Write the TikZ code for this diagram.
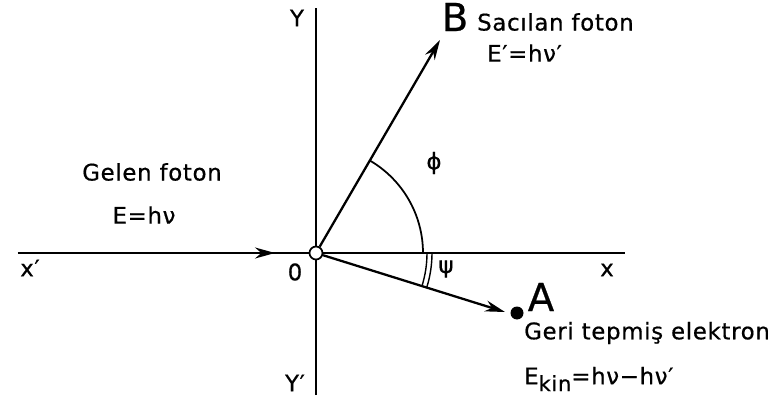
\documentclass[tikz,border=0pt]{standalone}
\usepackage{fontspec}
\setmainfont{DejaVu Sans}[LetterSpace=3, FakeBold=0.6]
\usepackage{tikz}
\usetikzlibrary{arrows.meta, positioning}

\begin{document}
\begin{tikzpicture}[
    every node/.append style={font=\fontsize{13}{15}\selectfont},
    axis/.style={line width=1pt},
    arr/.style={-{Stealth[length=4mm, width=2.2mm]}, line width=1.3pt},
    big/.style={font=\fontsize{22}{24}\selectfont},
]
\useasboundingbox (-6.32,-3.22) rectangle (9.32,5.06);

% axes
\coordinate (xl) at (-5.96, 0);
\coordinate (xr) at (6.18, 0);
\coordinate (yt) at (0, 4.9);
\coordinate (yb) at (0, -2.84);
\coordinate (tipin) at (-0.82, 0);
\coordinate (tipB) at (2.48, 4.26);
\coordinate (tipA) at (3.78, -1.18);

\draw[axis] (xl) -- (xr);
\draw[axis] (yb) -- (yt);

% photons and electron
\draw[arr] (xl) -- (tipin);
\node[draw, circle, fill=white, inner sep=0, minimum size=0.26cm, line width=1pt] (O) at (0,0) {};
\draw[arr] (O) -- (tipB);
\draw[arr] (O) -- (tipA);
\node[circle, fill=black, inner sep=0, minimum size=0.26cm] (dotA) at (4.02, -1.2) {};

% angles
\draw[line width=1pt] (2.14,0) arc[start angle=0, end angle=59.8, radius=2.14];
\draw[line width=0.8pt] (2.22,0) arc[start angle=0, end angle=-17.3, radius=2.22];
\draw[line width=0.8pt] (2.32,0) arc[start angle=0, end angle=-17.3, radius=2.32];

% labels
\node (lY) at (-0.38, 4.7) {Y};
\node (lYp) at (-0.42, -2.6) {Y′};
\node (lx) at (5.82, -0.34) {x};
\node (lxp) at (-5.72, -0.3) {x′};
\node (l0) at (-0.42, -0.38) {0};
\node[big] (lB) at (2.78, 4.72) {B};
\node[anchor=west] (sac) at (3.1, 4.62) {Sacılan foton};
\node[anchor=west] (eB) at (3.3, 4.0) {E′=hν′};
\node (gel) at (-3.28, 1.62) {Gelen foton};
\node (eG) at (-3.44, 0.76) {E=hν};
\node (phi) at (2.36, 1.8) {ϕ};
\node (psi) at (2.6, -0.32) {ψ};
\node[big] (lA) at (4.5, -0.88) {A};
\node[anchor=west] (geri) at (4.04, -1.6) {Geri tepmiş elektron};
\node[anchor=west] (ekin) at (4.04, -2.52) {E\raisebox{-0.55ex}{\fontsize{12}{13}\selectfont kin}=hν−hν′};

\end{tikzpicture}
\end{document}
